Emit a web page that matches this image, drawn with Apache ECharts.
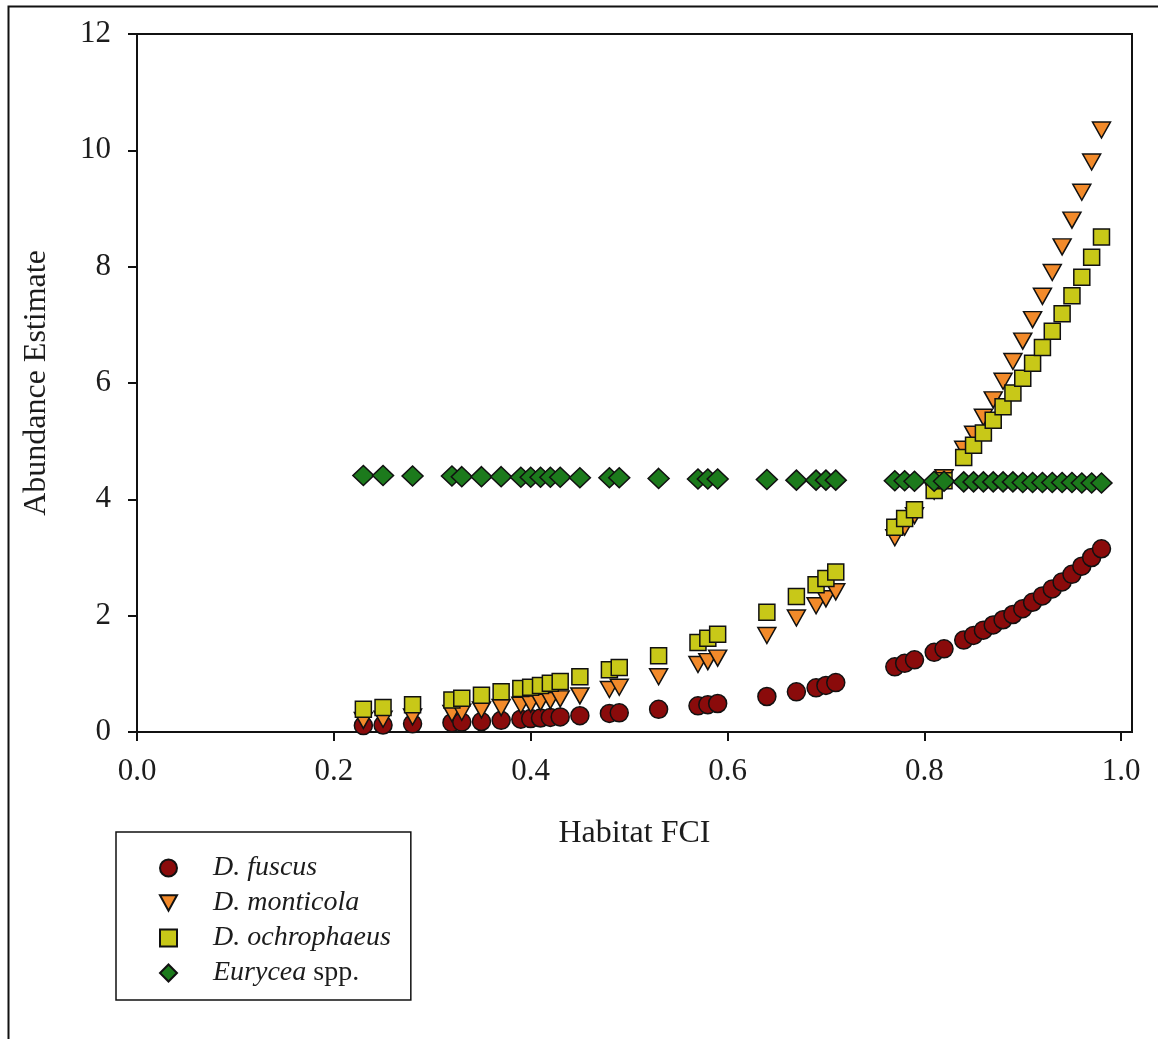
<!DOCTYPE html>
<html>
<head>
<meta charset="utf-8">
<style>
  html, body { margin: 0; padding: 0; background: #fff; }
  #chart { width: 1158px; height: 1039px; }
</style>
<script src="https://cdn.jsdelivr.net/npm/echarts@6/dist/echarts.min.js"></script>
</head>
<body>
<div id="chart"></div>
<script>
// Habitat FCI of each surveyed site (shared by all four species)
const habitatFCI = [
  0.23, 0.25, 0.28, 0.32, 0.33, 0.35, 0.37, 0.39, 0.40, 0.41, 0.42, 0.43, 0.45, 0.48, 0.49,
  0.53, 0.57, 0.58, 0.59, 0.64, 0.67, 0.69, 0.70, 0.71, 0.77, 0.78, 0.79, 0.81, 0.82,
  0.84, 0.85, 0.86, 0.87, 0.88, 0.89, 0.90, 0.91, 0.92, 0.93, 0.94, 0.95, 0.96, 0.97, 0.98
];

// Abundance estimates per species, one value per site above
const fuscus = [
  0.11, 0.12, 0.14, 0.16, 0.17, 0.18, 0.20, 0.22, 0.23, 0.24, 0.25, 0.26, 0.28, 0.32, 0.33,
  0.39, 0.45, 0.47, 0.49, 0.61, 0.69, 0.76, 0.80, 0.85, 1.12, 1.18, 1.24, 1.37, 1.43,
  1.58, 1.66, 1.75, 1.84, 1.93, 2.02, 2.12, 2.23, 2.34, 2.46, 2.58, 2.71, 2.85, 3.00, 3.15
];
const monticola = [
  0.20, 0.22, 0.26, 0.32, 0.34, 0.38, 0.42, 0.46, 0.48, 0.51, 0.54, 0.57, 0.62, 0.73, 0.77,
  0.95, 1.16, 1.21, 1.27, 1.66, 1.96, 2.17, 2.29, 2.41, 3.34, 3.52, 3.72, 4.14, 4.37,
  4.86, 5.12, 5.41, 5.71, 6.03, 6.37, 6.72, 7.09, 7.49, 7.90, 8.34, 8.80, 9.28, 9.80, 10.35
];
const ochrophaeus = [
  0.39, 0.42, 0.47, 0.55, 0.58, 0.63, 0.69, 0.75, 0.77, 0.80, 0.84, 0.87, 0.95, 1.07, 1.11,
  1.31, 1.54, 1.61, 1.68, 2.06, 2.33, 2.53, 2.64, 2.75, 3.52, 3.67, 3.82, 4.15, 4.32,
  4.72, 4.93, 5.14, 5.36, 5.59, 5.83, 6.08, 6.34, 6.61, 6.89, 7.19, 7.50, 7.82, 8.16, 8.51
];
const eurycea = [
  4.41, 4.41, 4.40, 4.40, 4.39, 4.39, 4.39, 4.38, 4.38, 4.38, 4.38, 4.38, 4.37, 4.37, 4.37,
  4.36, 4.35, 4.35, 4.35, 4.34, 4.33, 4.33, 4.33, 4.33, 4.32, 4.32, 4.31, 4.31, 4.31,
  4.30, 4.30, 4.30, 4.30, 4.30, 4.30, 4.29, 4.29, 4.29, 4.29, 4.29, 4.29, 4.28, 4.28, 4.28
];

const seriesNames = ['D. fuscus', 'D. monticola', 'D. ochrophaeus', 'Eurycea spp.'];
const xTicks = [0.0, 0.2, 0.4, 0.6, 0.8, 1.0];
const yTicks = [0, 2, 4, 6, 8, 10, 12];

const SERIF = '"Liberation Serif", "Times New Roman", serif';
const INK = '#1c1c1c';

function pairs(ys) {
  return habitatFCI.map((x, i) => [x, ys[i]]);
}

function marker(color) {
  return { color: color, opacity: 1, borderColor: '#111', borderWidth: 1.5 };
}

const chart = echarts.init(document.getElementById('chart'), null, { renderer: 'canvas' });

chart.setOption({
  backgroundColor: '#ffffff',
  animation: false,
  graphic: [{
    type: 'rect',
    left: 6, top: 4,
    shape: { width: 1170, height: 1050 },
    style: { fill: 'none', stroke: '#111', lineWidth: 2 },
    silent: true,
    z: -1
  }],
  grid: {
    left: 137, right: 26, top: 34, bottom: 307,
    show: true,
    borderColor: '#111',
    borderWidth: 2,
    backgroundColor: 'transparent'
  },
  xAxis: {
    type: 'value',
    min: 0, max: 1.011,
    name: 'Habitat FCI',
    nameLocation: 'middle',
    nameGap: 86,
    nameTextStyle: { fontFamily: SERIF, fontSize: 32, color: INK },
    axisLine: { lineStyle: { color: '#111', width: 2 } },
    axisTick: { show: true, inside: false, length: 9, lineStyle: { color: '#111', width: 2 }, customValues: xTicks },
    axisLabel: {
      fontFamily: SERIF, fontSize: 31, color: INK, margin: 24,
      customValues: xTicks,
      formatter: v => v.toFixed(1)
    },
    splitLine: { show: false }
  },
  yAxis: {
    type: 'value',
    min: 0, max: 12, interval: 2,
    name: 'Abundance Estimate',
    nameLocation: 'middle',
    nameGap: 84,
    nameTextStyle: { fontFamily: SERIF, fontSize: 32, color: INK },
    axisLine: { show: true, lineStyle: { color: '#111', width: 2 } },
    axisTick: { show: true, inside: false, length: 9, lineStyle: { color: '#111', width: 2 }, customValues: yTicks },
    axisLabel: {
      fontFamily: SERIF, fontSize: 31, color: INK, margin: 26,
      customValues: yTicks,
      formatter: v => String(v)
    },
    splitLine: { show: false }
  },
  legend: {
    orient: 'vertical',
    left: 116, top: 832,
    padding: [22, 20, 13, 43],
    itemGap: 7,
    itemWidth: 17, itemHeight: 17,
    borderColor: '#111',
    borderWidth: 1.5,
    backgroundColor: '#fff',
    data: seriesNames,
    formatter: name => name === 'Eurycea spp.' ? '{gap|}{it|Eurycea}{n| spp.}' : '{gap|}{it|' + name + '}',
    textStyle: {
      fontFamily: SERIF, fontSize: 28, color: INK,
      rich: {
        gap: { width: 31, lineHeight: 28 },
        it: { fontFamily: SERIF, fontSize: 28, fontStyle: 'italic', color: INK, lineHeight: 28 },
        n: { fontFamily: SERIF, fontSize: 28, fontStyle: 'normal', color: INK, lineHeight: 28 }
      }
    }
  },
  series: [
    {
      name: seriesNames[0], type: 'scatter',
      symbol: 'circle', symbolSize: 18,
      itemStyle: marker('#8a0b0b'),
      data: pairs(fuscus)
    },
    {
      name: seriesNames[1], type: 'scatter',
      symbol: 'path://M0,0 L20,0 L10,18 Z', symbolSize: [18, 16],
      itemStyle: marker('#f28a2a'),
      data: pairs(monticola)
    },
    {
      name: seriesNames[2], type: 'scatter',
      symbol: 'rect', symbolSize: 16,
      itemStyle: marker('#c8c818'),
      data: pairs(ochrophaeus)
    },
    {
      name: seriesNames[3], type: 'scatter',
      symbol: 'diamond', symbolSize: [21, 20],
      itemStyle: marker('#1c7a1c'),
      data: pairs(eurycea)
    }
  ]
});
</script>
</body>
</html>
